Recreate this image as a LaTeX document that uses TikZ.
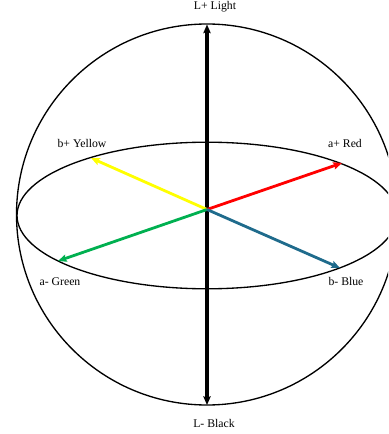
\documentclass[tikz,border=0pt]{standalone}
\usepackage{fontspec}
\setmainfont{Liberation Serif}
\usetikzlibrary{arrows.meta, positioning}
\definecolor{cYellow}{HTML}{FFFF00}
\definecolor{cRed}{HTML}{FF0000}
\definecolor{cGreen}{HTML}{00B050}
\definecolor{cBlue}{HTML}{1F6B8C}

\begin{document}
\begin{tikzpicture}[x=0.75pt, y=-0.75pt,
    axis/.style={line width=2.1pt, -{Stealth[length=6.5pt, width=5.5pt, inset=1pt]}},
    lbl/.style={font=\fontsize{8.8}{10}\selectfont, inner sep=0pt}]
    \useasboundingbox (0,0) rectangle (388,434);
    \clip (0,0) rectangle (388,434);
    % sphere and equator
    \draw[line width=1pt] (207,214.5) circle[radius=190.5*0.75pt];
    \draw[line width=1pt] (207,215.5) ellipse[x radius=190*0.75pt, y radius=73.3*0.75pt];
    % axis ends
    \coordinate (o) at (207,209.5);
    \coordinate (top) at (207,24.5);
    \coordinate (bot) at (207,405);
    \coordinate (yel) at (91,158);
    \coordinate (grn) at (58,261);
    \coordinate (red) at (342,163);
    \coordinate (blu) at (340,268);
    \draw[axis, line width=2.3pt, {Stealth[length=6.5pt, width=5.5pt, inset=1pt]}-{Stealth[length=6.5pt, width=5.5pt, inset=1pt]}] (bot) -- (top);
    \draw[axis, cYellow] (o) -- (yel);
    \draw[axis, cGreen] (o) -- (grn);
    \draw[axis, cRed] (o) -- (red);
    \draw[axis, cBlue] (o) -- (blu);
    % labels
    \node[lbl] (lLight) at (215,7) {L+ Light};
    \node[lbl] (lBlack) at (214,423) {L- Black};
    \node[lbl] (lYellow) at (82,143) {b+ Yellow};
    \node[lbl] (lGreen) at (60,282) {a- Green};
    \node[lbl] (lRed) at (345,143) {a+ Red};
    \node[lbl] (lBlue) at (346,281) {b- Blue};
\end{tikzpicture}
\end{document}
